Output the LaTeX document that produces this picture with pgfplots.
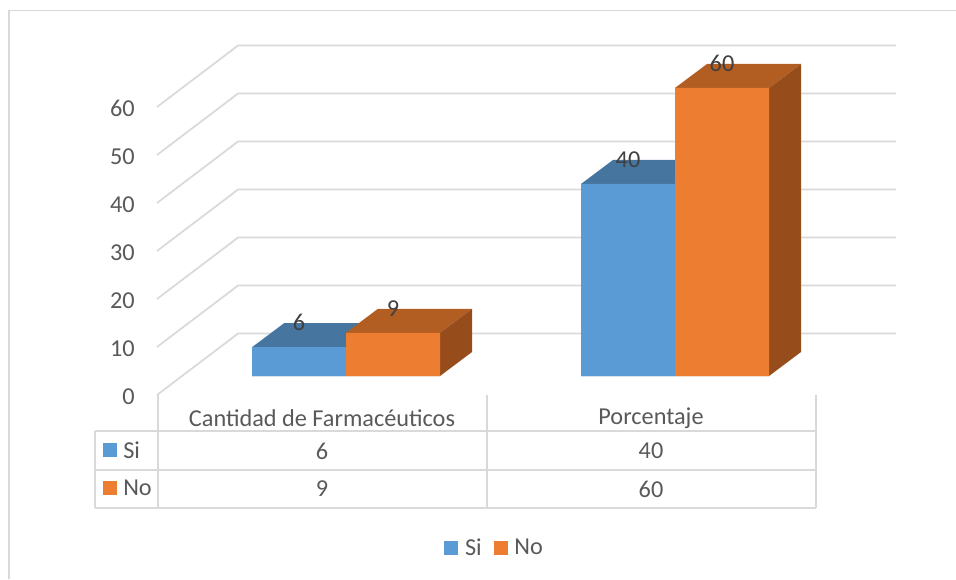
\documentclass[border=0pt]{standalone}
\usepackage{fontspec}
\setmainfont{Carlito}
\usepackage{pgfplots}
\pgfplotsset{compat=1.18}
\definecolor{gridgray}{HTML}{D9D9D9}
\definecolor{textgray}{HTML}{595959}
\definecolor{labelgray}{HTML}{404040}
\definecolor{siblue}{HTML}{5B9BD5}
\definecolor{sitop}{HTML}{4675A0}
\definecolor{noorange}{HTML}{ED7D31}
\definecolor{notop}{HTML}{B25D21}
\definecolor{noside}{HTML}{964D1B}
\newcommand{\chartfont}{\fontsize{18.2}{21}\selectfont}
% one drawing unit is one pixel of a 956 x 579 canvas
\pgfplotsset{
  canvas/.style={
    scale only axis, width=717pt, height=434.25pt,
    at={(0,0)}, anchor=south west, clip=false,
    xmin=0, xmax=956, axis line style={draw=none},
    major tick length=0pt,
  },
  grid line/.style={color=gridgray, line width=1.3pt, forget plot, no marks},
  rule/.style={color=gridgray, line width=1.5pt, forget plot, no marks},
  face/.style={fill=#1, draw=none, no marks, forget plot},
}
\begin{document}
\begin{tikzpicture}[every node/.style={font=\chartfont, text=textgray}]
\useasboundingbox (0,0) rectangle (717pt,434.25pt);

% Chart frame, data table rules and table text, y measured downwards from the top
\begin{axis}[canvas, ymin=0, ymax=579, y dir=reverse, xtick=\empty, ytick=\empty]
  \addplot[rule, line width=1.2pt] coordinates {(9,579) (9,10.5) (956,10.5)};
  % data table
  \addplot[rule] coordinates {(95,431) (815.5,431)};
  \addplot[rule] coordinates {(95,469.5) (815.5,469.5)};
  \addplot[rule] coordinates {(95,507.5) (815.5,507.5)};
  \addplot[rule] coordinates {(95,431) (95,507.5)};
  \addplot[rule] coordinates {(158,395) (158,507.5)};
  \addplot[rule] coordinates {(486.5,395) (486.5,507.5)};
  \addplot[rule] coordinates {(815.5,395) (815.5,507.5)};
  \node at (axis cs:322,418.5) {Cantidad de Farmacéuticos};
  \node at (axis cs:651,418.5) {Porcentaje};
  \node at (axis cs:322,451) {6};
  \node at (axis cs:322,489) {9};
  \node at (axis cs:651,451) {40};
  \node at (axis cs:651,489) {60};
  \fill[siblue] (axis cs:103,443) rectangle (axis cs:117,457);
  \fill[noorange] (axis cs:103,481) rectangle (axis cs:117,495);
  \node[anchor=west, inner sep=0pt] at (axis cs:123,450) {Si};
  \node[anchor=west, inner sep=0pt] at (axis cs:123,488) {No};
\end{axis}

% Value axis with side wall and back wall gridlines
\begin{axis}[canvas, ymin=-38.33, ymax=82.29, xtick=\empty,
    ytick={0,10,20,30,40,50,60},
    axis y line*=left,
    y axis line style={draw=none},
    /pgf/number format/assume math mode=true,
    yticklabel style={anchor=east, inner sep=0pt, xshift=101.25pt, yshift=-1pt,
      text=textgray, font=\chartfont}]
  \pgfplotsinvokeforeach{0,10,20,30,40,50,60}{
    \addplot[grid line] coordinates {(157,#1) (238,#1+12.8) (896,#1+12.8)};
  }
\end{axis}

% Columns: value 0 lies on the front floor edge, depth is 32 px across and 5 units up
\begin{axis}[canvas, ymin=-42.29, ymax=78.33, xtick=\empty, ytick=\empty,
    legend style={at={(axis cs:495,-35.8)}, anchor=center, draw=none, fill=none,
      legend columns=2, inner sep=0pt, font=\chartfont, text=textgray,
      /tikz/every odd column/.style={column sep=3pt},
      /tikz/column 2/.style={column sep=7pt}},
    legend image code/.code={\fill[#1] (0pt,-5.25pt) rectangle (10.5pt,5.25pt);},
  ]
  \addplot[face=sitop] coordinates {(252,6) (284,11) (378,11) (346,6)} \closedcycle;
  \addplot[face=sitop] coordinates {(581,40) (613,45) (707,45) (675,40)} \closedcycle;
  \addplot[fill=siblue, draw=none, no marks] coordinates {(252,0) (252,6) (346,6) (346,0)} \closedcycle;
  \addlegendentry{Si}
  \addplot[face=siblue] coordinates {(581,0) (581,40) (675,40) (675,0)} \closedcycle;
  \addplot[face=notop] coordinates {(346,9) (378,14) (472,14) (440,9)} \closedcycle;
  \addplot[face=noside] coordinates {(440,0) (472,5) (472,14) (440,9)} \closedcycle;
  \addplot[face=notop] coordinates {(675,60) (707,65) (801,65) (769,60)} \closedcycle;
  \addplot[face=noside] coordinates {(769,0) (801,5) (801,65) (769,60)} \closedcycle;
  \addplot[fill=noorange, draw=none, no marks] coordinates {(346,0) (346,9) (440,9) (440,0)} \closedcycle;
  \addlegendentry{No}
  \addplot[face=noorange] coordinates {(675,0) (675,60) (769,60) (769,0)} \closedcycle;
  % value labels above the columns
  \addplot[forget plot, only marks, mark=none, point meta=y,
    nodes near coords, nodes near coords align={anchor=center},
    every node near coord/.append style={anchor=center, yshift=18.5pt, text=labelgray,
      font=\chartfont, /pgf/number format/assume math mode=true}]
    coordinates {(299,6) (393,9) (628,40) (722,60)};
\end{axis}
\end{tikzpicture}
\end{document}
